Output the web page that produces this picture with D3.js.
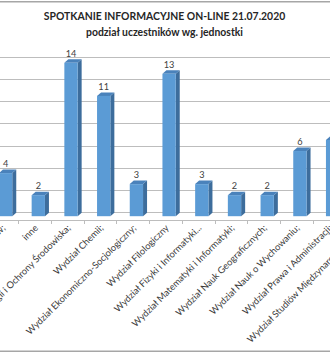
<!DOCTYPE html>
<html>
<head>
<meta charset="utf-8">
<script src="https://cdn.jsdelivr.net/npm/d3@7/dist/d3.min.js"></script>
<style>
  body { margin: 0; background: #fff; }
  svg { display: block; }
</style>
</head>
<body>
<svg id="chart" width="330" height="354"></svg>
<script>
// Participants per unit
const categories = [
  "Centrum Języka i Kultury Polskiej dla Cudzoziemców;",
  "inne",
  "Wydział Biologii i Ochrony Środowiska;",
  "Wydział Chemii;",
  "Wydział Ekonomiczno-Socjologiczny;",
  "Wydział Filologiczny",
  "Wydział Fizyki i Informatyki...",
  "Wydział Matematyki i Informatyki;",
  "Wydział Nauk Geograficznych;",
  "Wydział Nauk o Wychowaniu;",
  "Wydział Prawa i Administracji;",
  "Wydział Studiów Międzynarodowych i..."
];
const values = [4, 2, 14, 11, 3, 13, 3, 2, 2, 6, 7, null];
const yTicks = [0, 2, 4, 6, 8, 10, 12, 14];
const titleText = "SPOTKANIE INFORMACYJNE ON-LINE 21.07.2020";
const subtitleText = "podział uczestników wg. jednostki";

const W = 330, H = 354;
const FONT = "Lato, 'Open Sans', 'DejaVu Sans', sans-serif";
const svg = d3.select("#chart");

// chart frame (only top and bottom edges fall inside the view)
svg.append("rect")
  .attr("x", -10).attr("y", 1.75)
  .attr("width", W + 20).attr("height", 349.5)
  .attr("fill", "#fff")
  .attr("stroke", "#a6a6a6").attr("stroke-width", 1.5);

// titles
svg.append("text")
  .attr("x", 164.5).attr("y", 19.5)
  .attr("text-anchor", "middle")
  .attr("font-family", FONT).attr("font-weight", "bold")
  .attr("font-size", 10.4).attr("fill", "#262626")
  .text(titleText);
svg.append("text")
  .attr("x", 164.5).attr("y", 35.5)
  .attr("text-anchor", "middle")
  .attr("font-family", FONT).attr("font-weight", "bold")
  .attr("font-size", 10.4).attr("fill", "#262626")
  .text(subtitleText);

// scales
const step = 32.7;
const x = d3.scaleBand()
  .domain(categories)
  .range([-14.4, -14.4 + step * categories.length])
  .padding(0);
const y = d3.scaleLinear().domain([0, 14]).range([211.7, 57.3]);

// back-wall gridlines
svg.append("g").selectAll("line")
  .data(yTicks)
  .join("line")
  .attr("x1", 0).attr("x2", W)
  .attr("y1", d => Math.round(y(d)) + 0.5)
  .attr("y2", d => Math.round(y(d)) + 0.5)
  .attr("stroke", "#bdbdbd").attr("stroke-width", 1);

// front category axis with tick marks between categories
const axisY = 220.5;
svg.append("line")
  .attr("x1", 0).attr("x2", W)
  .attr("y1", axisY).attr("y2", axisY)
  .attr("stroke", "#bdbdbd");
svg.append("g").selectAll("line")
  .data(categories.slice(1))
  .join("line")
  .attr("x1", d => Math.round(x(d)) + 0.5)
  .attr("x2", d => Math.round(x(d)) + 0.5)
  .attr("y1", axisY).attr("y2", axisY + 3.5)
  .attr("stroke", "#bdbdbd");

// 3D columns
const barW = 13.3, depthX = 4, depthY = 3.5, lift = 5.5, baseDrop = 4.5;
const bars = categories.map((c, i) => ({ c, v: values[i] })).filter(d => d.v != null);
const barG = svg.append("g");
bars.forEach(d => {
  const cx = x(d.c) + x.bandwidth() / 2;
  const x0 = cx - 3, x1 = x0 + barW;
  const top = y(d.v) + lift, bot = y(0) + baseDrop;
  const g = barG.append("g");
  // side face
  g.append("polygon")
    .attr("points", [[x1, top], [x1 + depthX, top - depthY], [x1 + depthX, bot - depthY], [x1, bot]].join(" "))
    .attr("fill", "#3d6d9c");
  // top face
  g.append("polygon")
    .attr("points", [[x0, top], [x0 + depthX, top - depthY], [x1 + depthX, top - depthY], [x1, top]].join(" "))
    .attr("fill", "#4a82bb");
  // front face
  g.append("rect")
    .attr("x", x0).attr("y", top)
    .attr("width", barW).attr("height", bot - top)
    .attr("fill", "#5b9bd5");
  // value label
  g.append("text")
    .attr("x", x0 + barW / 2).attr("y", top - 6)
    .attr("text-anchor", "middle")
    .attr("font-family", FONT).attr("font-size", 9.2)
    .attr("fill", "#404040")
    .text(d.v);
});

// rotated category labels
svg.append("g").selectAll("text")
  .data(categories)
  .join("text")
  .attr("transform", d => `translate(${x(d) + x.bandwidth() / 2 + 4},${228.5}) rotate(-45)`)
  .attr("text-anchor", "end")
  .attr("font-family", FONT).attr("font-size", 9.3)
  .attr("fill", "#3a3a3a")
  .text(d => d);
</script>
</body>
</html>
